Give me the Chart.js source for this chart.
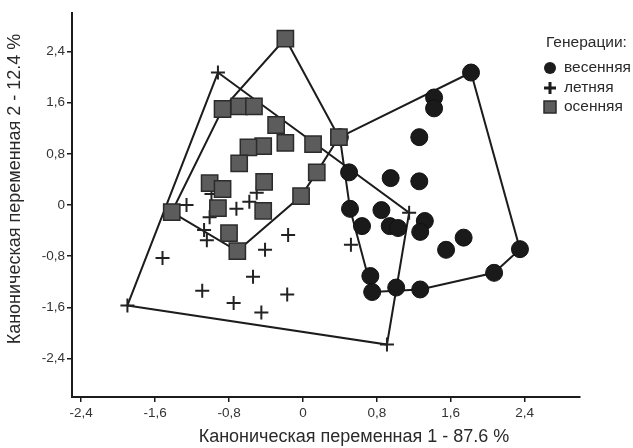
<!DOCTYPE html>
<html>
<head>
<meta charset="utf-8">
<script src="https://cdn.jsdelivr.net/npm/chart.js@4/dist/chart.umd.min.js"></script>
<style>
  html, body { margin: 0; padding: 0; background: #fff; }
  #wrap { width: 633px; height: 448px; position: relative; }
</style>
</head>
<body>
<div id="wrap"><canvas id="chart"></canvas></div>
<script>
// --- Data ---
const xTicks = [-2.4, -1.6, -0.8, 0, 0.8, 1.6, 2.4];
const yTicks = [-2.4, -1.6, -0.8, 0, 0.8, 1.6, 2.4];

const legendTitle = 'Генерации:';
const seriesNames = ['весенняя', 'летняя', 'осенняя'];
const xTitle = 'Каноническая переменная 1 - 87.6 %';
const yTitle = 'Каноническая переменная 2 - 12.4 %';

// весенняя
const springPts = [
  [0.40, 1.06], [1.82, 2.07], [1.42, 1.68], [1.42, 1.51], [1.26, 1.06],
  [0.50, 0.51], [0.95, 0.42], [1.26, 0.37], [0.51, -0.06], [0.85, -0.08],
  [0.64, -0.33], [0.94, -0.33], [1.03, -0.36], [1.32, -0.25], [1.27, -0.42],
  [1.55, -0.70], [1.74, -0.51], [2.35, -0.69], [2.07, -1.06], [0.73, -1.11],
  [0.75, -1.36], [1.01, -1.29], [1.27, -1.32]
];

// летняя
const summerPts = [
  [-0.92, 2.07], [1.15, -0.12], [0.91, -2.18], [-1.90, -1.57], [-1.52, -0.83],
  [-1.26, 0.00], [-1.01, -0.19], [-1.07, -0.39], [-1.04, -0.55], [-0.72, -0.06],
  [-0.58, 0.05], [-0.50, 0.19], [-0.16, -0.47], [-0.41, -0.70], [-1.09, -1.34],
  [-0.75, -1.53], [-0.45, -1.68], [-0.54, -1.12], [-0.17, -1.40], [0.52, -0.62],
  [-0.99, 0.17]
];

// осенняя
const autumnPts = [
  [-0.19, 2.60], [-0.87, 1.50], [-0.69, 1.54], [-0.53, 1.54], [-0.29, 1.25],
  [-0.19, 0.97], [0.11, 0.95], [0.39, 1.06], [-0.43, 0.92], [-0.59, 0.90],
  [-0.69, 0.65], [0.15, 0.51], [-0.42, 0.36], [-1.01, 0.34], [-0.87, 0.25],
  [-0.02, 0.14], [-0.92, -0.05], [-0.43, -0.09], [-1.42, -0.11], [-0.80, -0.44],
  [-0.71, -0.72]
];

// --- Helpers ---
const toXY = pts => pts.map(p => ({ x: p[0], y: p[1] }));

// convex hull (monotone chain), closed polygon
const hull = (pts) => {
  const p = pts.slice().sort((a, b) => a[0] - b[0] || a[1] - b[1]);
  const cross = (o, a, b) => (a[0] - o[0]) * (b[1] - o[1]) - (a[1] - o[1]) * (b[0] - o[0]);
  const lower = [];
  for (const q of p) {
    while (lower.length >= 2 && cross(lower[lower.length - 2], lower[lower.length - 1], q) <= 0) lower.pop();
    lower.push(q);
  }
  const upper = [];
  for (let i = p.length - 1; i >= 0; i--) {
    const q = p[i];
    while (upper.length >= 2 && cross(upper[upper.length - 2], upper[upper.length - 1], q) <= 0) upper.pop();
    upper.push(q);
  }
  const h = lower.slice(0, -1).concat(upper.slice(0, -1));
  h.push(h[0]);
  return toXY(h);
};

const fmt = v => v === 0 ? '0' : v.toFixed(1).replace('.', ',');
const FONT = '"Liberation Sans", Arial, sans-serif';
const INK = '#1c1c1c';

const hullDataset = (pts) => ({
  data: hull(pts),
  showLine: true,
  fill: false,
  tension: 0,
  pointRadius: 0,
  borderColor: INK,
  borderWidth: 2,
  order: 4
});

// legend + axis titles drawn at their own spots
const overlay = {
  id: 'overlay',
  afterDraw(chart) {
    const ctx = chart.ctx;
    ctx.save();
    ctx.fillStyle = '#2a2a2a';
    ctx.textBaseline = 'middle';

    ctx.font = '18px ' + FONT;
    ctx.textAlign = 'center';
    ctx.fillText(xTitle, 354, 437);
    ctx.save();
    ctx.translate(15, 189);
    ctx.rotate(-Math.PI / 2);
    ctx.fillText(yTitle, 0, 0);
    ctx.restore();

    ctx.textAlign = 'left';
    ctx.font = '15.5px ' + FONT;
    ctx.fillText(legendTitle, 546, 43);
    ctx.fillText(seriesNames[0], 564, 68);
    ctx.fillText(seriesNames[1], 564, 88);
    ctx.fillText(seriesNames[2], 564, 107);

    ctx.fillStyle = INK;
    ctx.beginPath();
    ctx.arc(550, 68, 6, 0, Math.PI * 2);
    ctx.fill();

    ctx.strokeStyle = INK;
    ctx.lineWidth = 3;
    ctx.beginPath();
    ctx.moveTo(544, 88); ctx.lineTo(556, 88);
    ctx.moveTo(550, 82); ctx.lineTo(550, 94);
    ctx.stroke();

    ctx.fillStyle = '#5c5c5c';
    ctx.strokeStyle = '#2a2a2a';
    ctx.lineWidth = 1.5;
    ctx.fillRect(544, 101, 12, 12);
    ctx.strokeRect(544, 101, 12, 12);
    ctx.restore();
  }
};

const axisCommon = (ticks) => ({
  type: 'linear',
  afterBuildTicks: s => { s.ticks = ticks.map(v => ({ value: v })); },
  grid: { display: true, drawOnChartArea: false, drawTicks: true, tickLength: 5, color: INK, lineWidth: 1.5 },
  border: { display: true, color: INK, width: 2 },
  ticks: { color: '#333', font: { family: FONT, size: 13.5 }, padding: 3, callback: v => fmt(v) },
  title: { display: false }
});

const xAxis = axisCommon(xTicks);
xAxis.min = -2.5; xAxis.max = 3.0;
xAxis.afterFit = s => { s.height = 51; };

const yAxis = axisCommon(yTicks);
yAxis.min = -3.0; yAxis.max = 3.0;
yAxis.ticks.padding = 2;
yAxis.afterFit = s => { s.width = 72; };

new Chart(document.getElementById('chart'), {
  type: 'scatter',
  data: {
    datasets: [
      {
        label: seriesNames[0], data: toXY(springPts),
        pointStyle: 'circle', pointRadius: 8.5, pointBorderWidth: 1,
        backgroundColor: '#1a1a1a', borderColor: '#111', order: 2
      },
      {
        label: seriesNames[1], data: toXY(summerPts),
        pointStyle: 'cross', pointRadius: 7, pointBorderWidth: 2,
        backgroundColor: '#222', borderColor: '#222', order: 3
      },
      {
        label: seriesNames[2], data: toXY(autumnPts),
        pointStyle: 'rect', pointRadius: 11.5, pointBorderWidth: 1.5,
        backgroundColor: '#5c5c5c', borderColor: '#2b2b2b', order: 1
      },
      hullDataset(springPts),
      hullDataset(summerPts),
      hullDataset(autumnPts)
    ]
  },
  options: {
    responsive: true,
    maintainAspectRatio: false,
    animation: false,
    layout: { padding: { left: 0, top: 12, right: 53, bottom: 0 } },
    plugins: { legend: { display: false }, tooltip: { enabled: false } },
    scales: { x: xAxis, y: yAxis }
  },
  plugins: [overlay]
});
</script>
</body>
</html>
